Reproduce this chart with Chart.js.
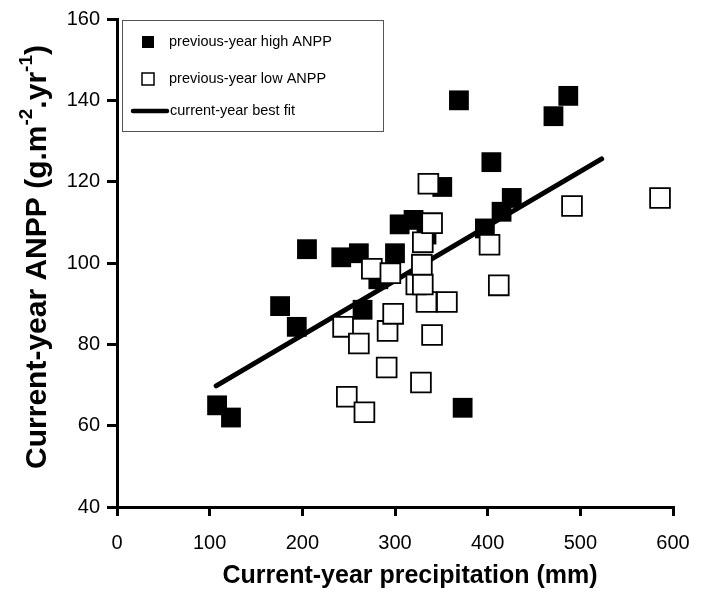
<!DOCTYPE html>
<html>
<head>
<meta charset="utf-8">
<script src="https://cdn.jsdelivr.net/npm/chart.js@4/dist/chart.umd.min.js"></script>
<style>
html,body{margin:0;padding:0;background:#fff;}
#wrap{width:706px;height:605px;position:relative;}
</style>
</head>
<body>
<div id="wrap"><canvas id="c" width="706" height="605"></canvas></div>
<script>
// Previous-year high ANPP (filled squares)
const highPrecip = [108, 123, 176, 194, 205, 242, 261, 265, 282, 300, 305, 320, 334, 351, 369, 373, 397, 404, 415, 426, 471, 487];
const highANPP   = [65, 62, 89.4, 84.3, 103.4, 101.4, 102.4, 88.5, 96, 102.4, 109.5, 110.6, 107, 118.7, 140, 64.4, 108.5, 124.8, 112.6, 116, 136.1, 141.1];
// Previous-year low ANPP (open squares)
const lowPrecip = [244, 261, 248, 267, 292, 298, 291, 328, 340, 334, 356, 323, 330, 329, 330, 340, 336, 275, 295, 402, 412, 491, 586];
const lowANPP   = [84.3, 80.2, 67.1, 63.3, 83.3, 87.5, 74.3, 70.6, 82.3, 90.4, 90.4, 94.7, 94.7, 99.6, 105.1, 109.8, 119.5, 98.6, 97.5, 104.5, 94.5, 114, 116];
// Current-year best fit line
const fitPrecip = [107, 523];
const fitANPP   = [69.8, 125.6];
// Axis ticks
const xTicks = [0, 100, 200, 300, 400, 500, 600];
const yTicks = [40, 60, 80, 100, 120, 140, 160];

const seriesNames = ['previous-year high ANPP', 'previous-year low ANPP', 'current-year best fit'];
const xTitle = 'Current-year precipitation (mm)';
const toPts = (xs, ys) => xs.map((x, i) => ({x: x, y: ys[i]}));

const FONT = "'Liberation Sans', Arial, sans-serif";

const legendPlugin = {
  id: 'boxLegend',
  afterDraw(chart) {
    const ctx = chart.ctx;
    const a = chart.chartArea;
    const x0 = a.left + 5, y0 = a.top + 1, w = 261, h = 111;
    ctx.save();
    ctx.strokeStyle = '#555';
    ctx.lineWidth = 1;
    ctx.fillStyle = '#fff';
    ctx.fillRect(x0, y0, w, h);
    ctx.strokeRect(x0 + 0.5, y0 + 0.5, w, h);
    ctx.font = '14.5px ' + FONT;
    ctx.fillStyle = '#000';
    ctx.textBaseline = 'middle';
    ctx.textAlign = 'left';
    ctx.fillRect(x0 + 20, y0 + 16, 12, 12);
    ctx.fillText(seriesNames[0], x0 + 47, y0 + 22);
    ctx.lineWidth = 1.5;
    ctx.strokeStyle = '#000';
    ctx.fillStyle = '#fff';
    ctx.fillRect(x0 + 20, y0 + 53, 12, 12);
    ctx.strokeRect(x0 + 20, y0 + 53, 12, 12);
    ctx.fillStyle = '#000';
    ctx.fillText(seriesNames[1], x0 + 47, y0 + 59);
    ctx.lineWidth = 4.5;
    ctx.lineCap = 'round';
    ctx.beginPath();
    ctx.moveTo(x0 + 11, y0 + 91);
    ctx.lineTo(x0 + 45, y0 + 91);
    ctx.stroke();
    ctx.fillText(seriesNames[2], x0 + 48, y0 + 91);
    ctx.restore();
  }
};

const titlesPlugin = {
  id: 'axisTitles',
  afterDraw(chart) {
    const ctx = chart.ctx;
    const big = 'bold 30px ' + FONT;
    const small = 'bold 19px ' + FONT;
    const parts = [
      ['Current-year ANPP (g.m', big, 0],
      ['-2', small, -11],
      ['.yr', big, 0],
      ['-1', small, -11],
      [')', big, 0]
    ];
    ctx.save();
    let total = 0;
    parts.forEach(p => { ctx.font = p[1]; total += ctx.measureText(p[0]).width; });
    ctx.translate(38, 257);
    ctx.rotate(-Math.PI / 2);
    ctx.fillStyle = '#000';
    ctx.textBaseline = 'middle';
    ctx.textAlign = 'left';
    let x = -total / 2;
    parts.forEach(p => {
      ctx.font = p[1];
      ctx.fillText(p[0], x, p[2]);
      x += ctx.measureText(p[0]).width;
    });
    ctx.restore();
    ctx.save();
    ctx.font = 'bold 25px ' + FONT;
    ctx.fillStyle = '#000';
    ctx.textAlign = 'center';
    ctx.textBaseline = 'middle';
    ctx.fillText(xTitle, 410, 576);
    ctx.restore();
  }
};

new Chart(document.getElementById('c'), {
  type: 'scatter',
  data: {
    datasets: [
      {
        label: seriesNames[0],
        data: toPts(highPrecip, highANPP),
        pointStyle: 'rect',
        pointRadius: 14,
        pointHoverRadius: 14,
        backgroundColor: '#000',
        borderColor: '#000',
        borderWidth: 0,
        order: 1
      },
      {
        label: seriesNames[1],
        data: toPts(lowPrecip, lowANPP),
        pointStyle: 'rect',
        pointRadius: 14,
        pointHoverRadius: 14,
        backgroundColor: '#fff',
        borderColor: '#000',
        borderWidth: 1.8,
        order: 0
      },
      {
        label: seriesNames[2],
        type: 'line',
        data: toPts(fitPrecip, fitANPP),
        showLine: true,
        pointRadius: 0,
        borderColor: '#000',
        borderWidth: 5,
        borderCapStyle: 'round',
        fill: false,
        order: 2
      }
    ]
  },
  options: {
    responsive: false,
    animation: false,
    events: [],
    layout: { padding: { left: 0, right: 33, top: 16, bottom: 0 } },
    plugins: { legend: { display: false }, tooltip: { enabled: false } },
    scales: {
      x: {
        type: 'linear',
        min: 0, max: 600,
        afterFit(s) { s.height = 98; },
        afterBuildTicks(s) { s.ticks = xTicks.map(v => ({value: v})); },
        ticks: { color: '#000', font: { family: FONT, size: 20 }, padding: 15, maxRotation: 0 },
        grid: { display: true, drawOnChartArea: false, drawTicks: true, tickLength: 9, color: '#000', lineWidth: 3 },
        border: { display: true, color: '#000', width: 3 },
        title: { display: false }
      },
      y: {
        type: 'linear',
        min: 40, max: 160,
        afterFit(s) { s.width = 117; },
        afterBuildTicks(s) { s.ticks = yTicks.map(v => ({value: v})); },
        ticks: { color: '#000', font: { family: FONT, size: 20 }, padding: 7 },
        grid: { display: true, drawOnChartArea: false, drawTicks: true, tickLength: 10, color: '#000', lineWidth: 3 },
        border: { display: true, color: '#000', width: 3 }
      }
    }
  },
  plugins: [legendPlugin, titlesPlugin]
});
</script>
</body>
</html>
